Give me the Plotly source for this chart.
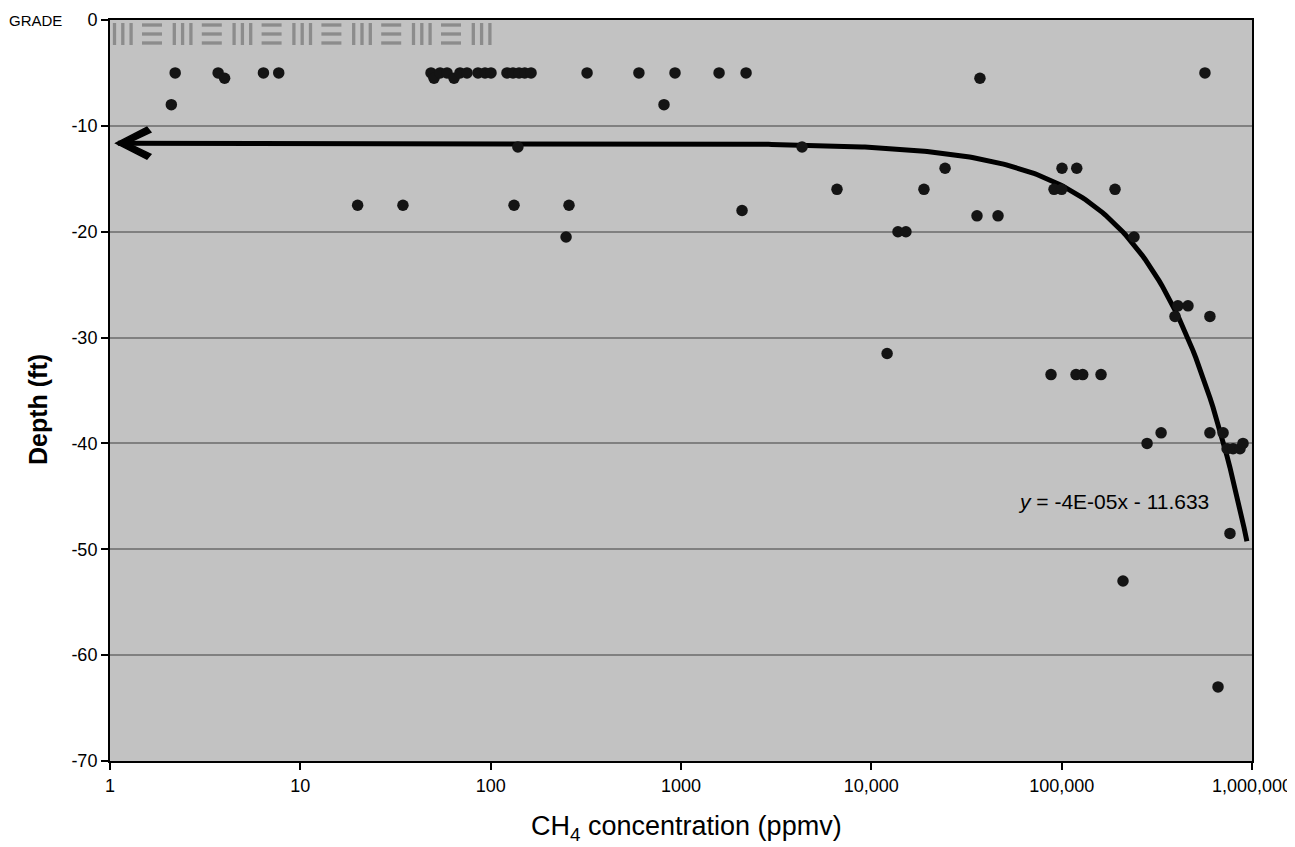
import numpy as np
import plotly.graph_objects as go

# ---- data ----
ch4_ppmv = [
    2.2, 2.1, 3.7, 4.0, 6.4, 7.7,
    48.6, 50.4, 54.2, 59.0, 64.2, 69.0, 75.1, 85.8, 93.4, 100.4,
    121.8, 131, 141, 151, 163,
    321, 601, 930, 1585, 2197, 814, 37200, 566000,
    139, 4325,
    20, 34.6, 132.7, 258, 249, 2093,
    6600, 18900, 24400, 13800, 15200, 12100, 35900, 46300,
    100400, 120000, 91200, 100000, 190700, 240000,
    408000, 461000, 394000, 601000,
    87900, 119000, 129000, 161000,
    281000, 333000, 601000, 705000, 740000, 795000, 865000, 897000,
    766000, 210000, 663000,
]
depth_ft = [
    -5, -8, -5, -5.5, -5, -5,
    -5, -5.5, -5, -5, -5.5, -5, -5, -5, -5, -5,
    -5, -5, -5, -5, -5,
    -5, -5, -5, -5, -5, -8, -5.5, -5,
    -12, -12,
    -17.5, -17.5, -17.5, -17.5, -20.5, -18,
    -16, -16, -14, -20, -20, -31.5, -18.5, -18.5,
    -14, -14, -16, -16, -16, -20.5,
    -27, -27, -28, -28,
    -33.5, -33.5, -33.5, -33.5,
    -40, -39, -39, -39, -40.5, -40.5, -40.5, -40,
    -48.5, -53, -63,
]

# linear trendline (as given in the chart)
TREND_SLOPE = -4e-05
TREND_INTERCEPT = -11.633
TREND_X_MIN = 1.1
TREND_X_MAX = 9.4e5

x_tickvals = [1, 10, 100, 1000, 10000, 100000, 1000000]
x_ticktext = ["1", "10", "100", "1000", "10,000", "100,000", "1,000,000"]
y_tickvals = [0, -10, -20, -30, -40, -50, -60, -70]
y_ticktext = ["0", "-10", "-20", "-30", "-40", "-50", "-60", "-70"]
X_RANGE_LOG = [0, 6]
Y_RANGE = [-70, 0]

FONT = "Liberation Sans, Arial, sans-serif"

tx = np.logspace(np.log10(TREND_X_MIN), np.log10(TREND_X_MAX), 400)
ty = TREND_SLOPE * tx + TREND_INTERCEPT

fig = go.Figure()
fig.add_trace(go.Scatter(
    x=tx, y=ty, mode="lines",
    line=dict(color="black", width=5), hoverinfo="skip", showlegend=False,
))
fig.add_trace(go.Scatter(
    x=ch4_ppmv, y=depth_ft, mode="markers",
    marker=dict(color="#141414", size=11.5, line=dict(width=0)),
    showlegend=False,
))

# page geometry: the page body adds an 8px offset
OFF = 8
W, H = 1295 - OFF, 847 - OFF
PLOT_L, PLOT_R, PLOT_T, PLOT_B = 110, 1252, 20, 761
ML, MR = PLOT_L - OFF, (W + OFF) - PLOT_R
MT, MB = PLOT_T - OFF, (H + OFF) - PLOT_B
PW = PLOT_R - PLOT_L
PH = PLOT_B - PLOT_T

def px_x(px):
    return (px - PLOT_L) / PW

def px_y(py):
    return (PLOT_B - py) / PH

shapes = []
hatch_col = "#8c8c8c"
period = 59.8
for i in range(7):
    x0 = 114.5 + i * period
    for k in range(3):
        xx = x0 + k * 8.3
        shapes.append(dict(type="line", xref="paper", yref="paper",
                           x0=px_x(xx), x1=px_x(xx), y0=px_y(23), y1=px_y(45),
                           line=dict(color=hatch_col, width=3.3)))
    if i < 6:
        hx0 = x0 + 27.5
        for k in range(3):
            yy = 25 + k * 9
            shapes.append(dict(type="line", xref="paper", yref="paper",
                               x0=px_x(hx0), x1=px_x(hx0 + 20), y0=px_y(yy), y1=px_y(yy),
                               line=dict(color=hatch_col, width=3.3)))

# arrowhead (thick chevron) at the left end of the trendline
tip_x = (np.log10(TREND_X_MIN) - X_RANGE_LOG[0]) / (X_RANGE_LOG[1] - X_RANGE_LOG[0])
tip_y = ((TREND_SLOPE * TREND_X_MIN + TREND_INTERCEPT) - Y_RANGE[0]) / (Y_RANGE[1] - Y_RANGE[0])
shapes.append(dict(
    type="path", xref="paper", yref="paper",
    xsizemode="pixel", ysizemode="pixel",
    xanchor=tip_x, yanchor=tip_y,
    path="M -2,0 L 29,16 L 33,11 L 10,0 L 33,-11 L 29,-16 Z",
    fillcolor="black",
    line=dict(color="black", width=1.5),
))

annotations = [
    dict(text="GRADE", xref="paper", yref="paper", x=px_x(35), y=px_y(20),
         showarrow=False, font=dict(family=FONT, size=15, color="black"),
         xanchor="center", yanchor="middle"),
    dict(text="<i>y</i> = -4E-05x - 11.633", xref="paper", yref="paper",
         x=px_x(1113), y=px_y(502), showarrow=False,
         font=dict(family=FONT, size=21, color="black"),
         xanchor="center", yanchor="middle"),
    dict(text="CH<sub>4</sub> concentration (ppmv)", xref="paper", yref="paper",
         x=px_x(686), y=px_y(828), showarrow=False,
         font=dict(family=FONT, size=27, color="black"),
         xanchor="center", yanchor="middle"),
    dict(text="<b>Depth (ft)</b>", xref="paper", yref="paper",
         x=px_x(38), y=px_y(410), showarrow=False, textangle=-90,
         font=dict(family=FONT, size=25, color="black"),
         xanchor="center", yanchor="middle"),
]

fig.update_layout(
    width=W, height=H,
    margin=dict(l=ML, r=MR, t=MT, b=MB, autoexpand=False),
    paper_bgcolor="white",
    plot_bgcolor="#c2c2c2",
    font=dict(family=FONT, color="black"),
    shapes=shapes,
    annotations=annotations,
    xaxis=dict(
        type="log", range=X_RANGE_LOG, automargin=False,
        tickvals=x_tickvals, ticktext=x_ticktext,
        showgrid=False, zeroline=False,
        ticks="outside", ticklen=7, tickwidth=1.5, tickcolor="black",
        showline=True, linecolor="black", linewidth=2, mirror=True,
        tickfont=dict(family=FONT, size=18, color="black"),
        ticklabeloverflow="allow",
    ),
    yaxis=dict(
        range=Y_RANGE, tickvals=y_tickvals, ticktext=y_ticktext, automargin=False,
        showgrid=True, gridcolor="#808080", gridwidth=1.5, zeroline=False,
        ticks="outside", ticklen=7, tickwidth=1.5, tickcolor="black",
        showline=True, linecolor="black", linewidth=2, mirror=True,
        tickfont=dict(family=FONT, size=18, color="black"),
    ),
)

fig.write_html("out.html")
